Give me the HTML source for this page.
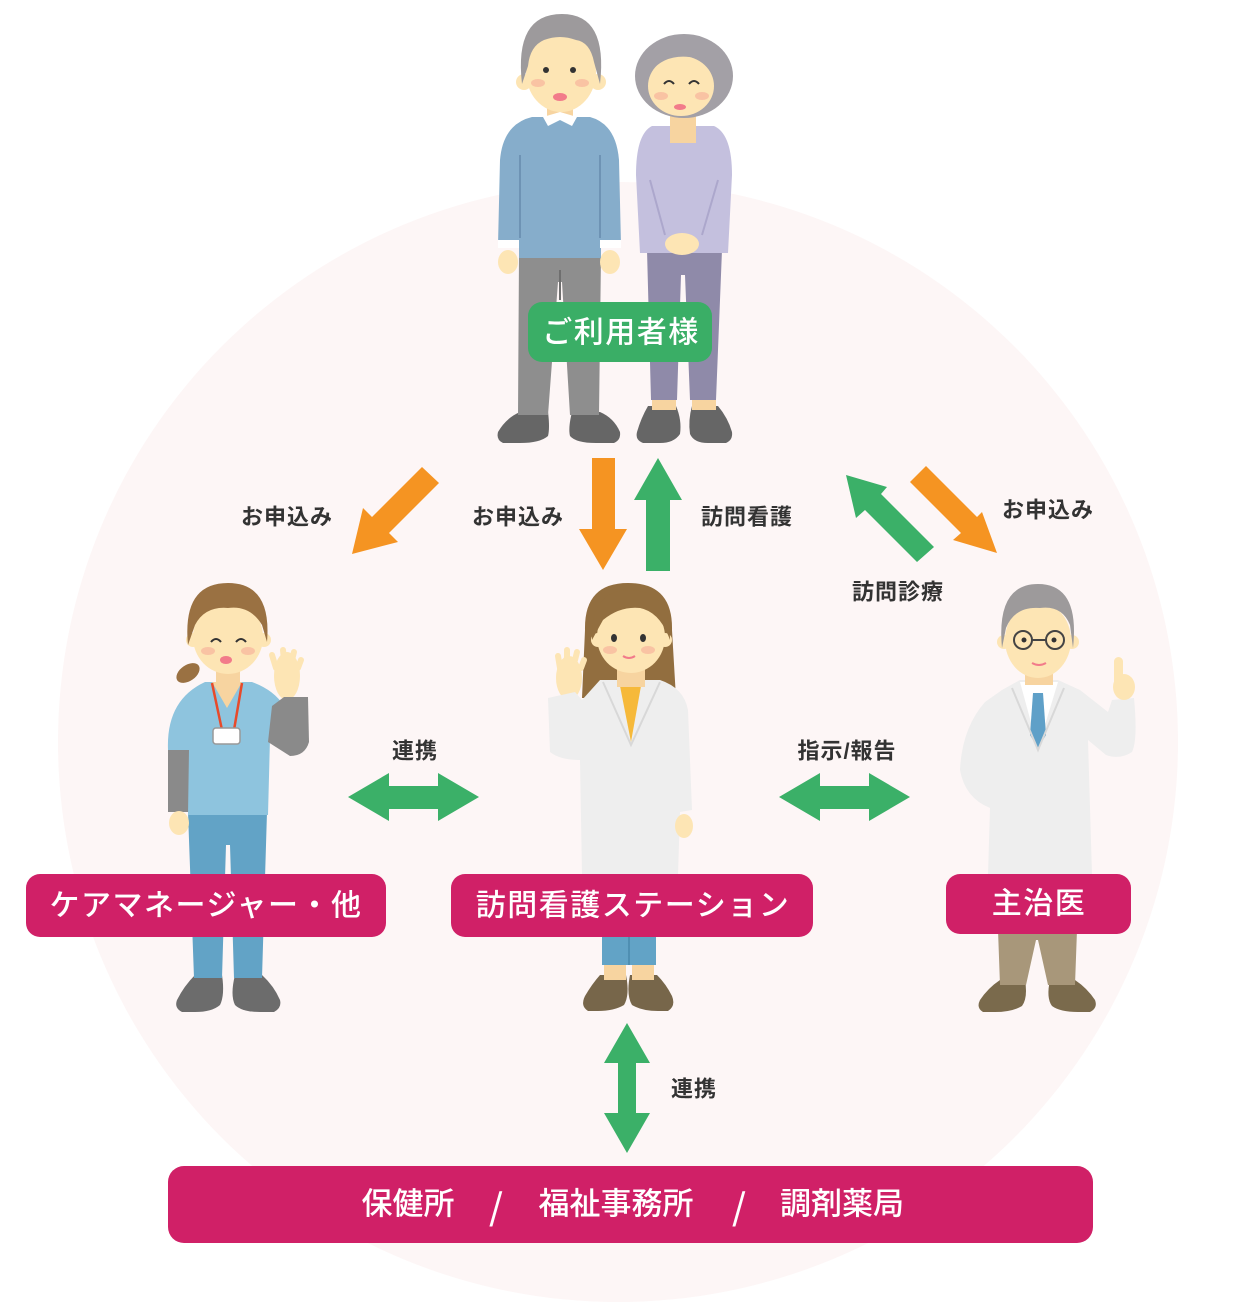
<!DOCTYPE html>
<html><head><meta charset="utf-8">
<style>
html,body{margin:0;padding:0;background:#fff;}
body{width:1233px;height:1312px;overflow:hidden;}
svg{display:block;}
text{font-family:"Liberation Sans","Noto Sans CJK JP",sans-serif;}
.sm{font-size:22px;font-weight:700;fill:#333;letter-spacing:1px;}
.bx{font-size:30px;font-weight:500;fill:#fff;letter-spacing:1.5px;}
.bb{font-size:31px;font-weight:500;fill:#fff;}
.sl{font-size:36px;font-weight:500;fill:#fff;font-family:"Noto Sans CJK JP",sans-serif;}
</style></head><body>
<svg width="1233" height="1312" viewBox="0 0 1233 1312" xmlns="http://www.w3.org/2000/svg">
<!-- background circle -->
<circle cx="618" cy="742" r="560" fill="#fdf6f6"/>

<!-- ================= OLD MAN ================= -->
<g>
  <path d="M520,412 L548,412 Q550,428 548,436 Q540,443 520,443 L503,443 Q496,440 498,432 Q506,418 520,412Z" fill="#666"/>
  <path d="M572,412 L600,412 Q614,418 620,432 Q621,440 614,443 L596,443 Q576,443 570,436 Q568,428 572,412Z" fill="#666"/>
  <path d="M519,255 L601,255 L599,415 L570,415 L562,282 L558,282 L548,415 L518,415Z" fill="#8e8e8e"/>
  <path d="M560,270 L560,300" stroke="#6f6f6f" stroke-width="2"/>
  <ellipse cx="508" cy="262" rx="10" ry="12" fill="#fde5b4"/>
  <ellipse cx="610" cy="262" rx="10" ry="12" fill="#fde5b4"/>
  <path d="M532,117 L590,117 Q616,124 619,160 L621,245 L601,245 L601,258 L519,258 L519,245 L498,245 L500,160 Q503,124 532,117Z" fill="#86adcb"/>
  <path d="M520,155 L520,238 M600,155 L600,238" stroke="#6e93b4" stroke-width="2" fill="none"/>
  <rect x="498" y="240" width="21" height="8" fill="#fff"/>
  <rect x="600" y="240" width="21" height="8" fill="#fff"/>
  <rect x="547" y="98" width="26" height="20" fill="#f7d4a0"/>
  <path d="M543,117 L560,112 L577,117 L572,126 L560,120 L548,126Z" fill="#fff"/>
  <circle cx="524" cy="82" r="8" fill="#fde5b4"/>
  <circle cx="598" cy="82" r="8" fill="#fde5b4"/>
  <ellipse cx="561" cy="72" rx="35" ry="40" fill="#fde5b4"/>
  <path d="M522,84 Q514,14 562,14 Q608,14 600,84 L594,62 Q590,42 576,40 Q560,34 544,40 Q530,46 528,66Z" fill="#9d9a9c"/>
  <circle cx="546" cy="70" r="3" fill="#333"/>
  <circle cx="573" cy="70" r="3" fill="#333"/>
  <ellipse cx="538" cy="83" rx="7" ry="4" fill="#f9c3a3"/>
  <ellipse cx="582" cy="83" rx="7" ry="4" fill="#f9c3a3"/>
  <ellipse cx="560" cy="97" rx="7" ry="4" fill="#f27b8a"/>
</g>

<!-- ================= OLD WOMAN ================= -->
<g>
  <path d="M648,406 L676,406 Q682,420 680,434 Q674,443 660,443 L643,443 Q635,440 637,432 Q641,418 648,406Z" fill="#666"/>
  <path d="M692,406 L718,406 Q728,418 732,432 Q733,440 726,443 L708,443 Q694,443 690,434 Q688,420 692,406Z" fill="#666"/>
  <rect x="652" y="396" width="24" height="14" fill="#f7d4a0"/>
  <rect x="692" y="396" width="24" height="14" fill="#f7d4a0"/>
  <path d="M647,250 L722,250 L716,400 L690,400 L685,275 L681,275 L677,400 L651,400Z" fill="#8f8aa9"/>
  <path d="M652,126 L670,126 L670,143 L696,143 L696,126 L714,126 Q732,134 732,175 L728,253 L640,253 L636,175 Q636,134 652,126Z" fill="#c4c0de"/>
  <path d="M650,180 L665,235 M718,180 L702,235" stroke="#aca7cc" stroke-width="2" fill="none"/>
  <rect x="670" y="108" width="26" height="35" fill="#f7d4a0"/>
  <ellipse cx="682" cy="244" rx="17" ry="11" fill="#fde5b4"/>
  <ellipse cx="684" cy="76" rx="49" ry="42" fill="#a3a0a6"/>
  <ellipse cx="681" cy="86" rx="33" ry="30" fill="#fde5b4"/>
  <path d="M640,84 Q640,40 684,38 Q724,40 722,74 Q712,52 690,57 Q665,54 650,72Z" fill="#a3a0a6"/>
  <path d="M664,84 q5,-6 10,0 M689,84 q5,-6 10,0" stroke="#333" stroke-width="2" fill="none"/>
  <ellipse cx="661" cy="96" rx="7" ry="4" fill="#f9c3a3"/>
  <ellipse cx="702" cy="96" rx="7" ry="4" fill="#f9c3a3"/>
  <ellipse cx="680" cy="107" rx="6" ry="3" fill="#f27b8a"/>
</g>

<rect x="528" y="302" width="184" height="60" rx="14" fill="#3aae66"/>
<text class="bx" x="621" y="333" text-anchor="middle" dominant-baseline="central">ご利用者様</text>

<!-- ================= ARROWS ================= -->
<polygon points="422,467 439,483 389,533 398,542 352,554 363,508 372,517" fill="#f59422"/>
<polygon points="592,458 615,458 615,529 627,529 603,570 579,529 592,529" fill="#f59422"/>
<polygon points="658,458 682,500 670,500 670,571 646,571 646,500 634,500" fill="#3bb068"/>
<polygon points="934,547 917,562 865,510 856,518 846,475 887,487 881,494" fill="#3bb068"/>
<polygon points="910,482 926,466 977,517 982,512 997,553 953,540 961,533" fill="#f59422"/>
<polygon points="348,797 389,773 389,786 438,786 438,773 479,797 438,821 438,809 389,809 389,821" fill="#3bb068"/>
<polygon points="779,797 820,773 820,786 869,786 869,773 910,797 869,821 869,809 820,809 820,821" fill="#3bb068"/>
<polygon points="627,1023 650,1063 636,1063 636,1113 650,1113 627,1153 604,1113 618,1113 618,1063 604,1063" fill="#3bb068"/>

<text class="sm" x="287" y="517" text-anchor="middle" dominant-baseline="central">お申込み</text>
<text class="sm" x="518" y="517" text-anchor="middle" dominant-baseline="central">お申込み</text>
<text class="sm" x="747" y="517" text-anchor="middle" dominant-baseline="central">訪問看護</text>
<text class="sm" x="1048" y="510" text-anchor="middle" dominant-baseline="central">お申込み</text>
<text class="sm" x="898" y="592" text-anchor="middle" dominant-baseline="central">訪問診療</text>
<text class="sm" x="415" y="751" text-anchor="middle" dominant-baseline="central">連携</text>
<text class="sm" x="847" y="751" text-anchor="middle" dominant-baseline="central">指示/報告</text>
<text class="sm" x="694" y="1089" text-anchor="middle" dominant-baseline="central">連携</text>

<!-- ================= CARE MANAGER ================= -->
<g>
  <path d="M195,975 L222,975 Q225,995 220,1005 Q212,1012 195,1012 L182,1012 Q174,1008 177,1000 Q184,986 195,975Z" fill="#6c6c6c"/>
  <path d="M235,975 L262,975 Q274,986 280,1000 Q282,1008 274,1012 L260,1012 Q242,1012 235,1005 Q230,995 235,975Z" fill="#6c6c6c"/>
  <path d="M188,812 L267,812 L262,978 L234,978 L230,845 L226,845 L222,978 L194,978Z" fill="#62a3c6"/>
  <rect x="168" y="748" width="21" height="64" fill="#8a8a8a"/>
  <ellipse cx="179" cy="823" rx="10" ry="12" fill="#fde5b4"/>
  <path d="M205,682 L252,682 Q274,690 284,706 L270,738 L268,815 L188,815 L189,750 L168,750 Q166,700 205,682Z" fill="#8ec4de"/>
  <path d="M212,682 L242,682 L227,708Z" fill="#f7d4a0"/>
  <ellipse cx="287" cy="676" rx="13" ry="24" fill="#fde5b4"/>
  <path d="M276,668 L272,655 M284,660 L283,650 M292,660 L294,652 M298,668 L301,660" stroke="#fde5b4" stroke-width="6" stroke-linecap="round"/>
  <path d="M272,706 L284,697 L308,697 L309,742 Q305,756 290,756 L268,742Z" fill="#8a8a8a"/>
  <path d="M212,683 L222,730 M242,683 L234,730" stroke="#e84a2a" stroke-width="2.5" fill="none"/>
  <rect x="213" y="728" width="27" height="16" rx="3" fill="#fff" stroke="#999" stroke-width="1.5"/>
  <rect x="216" y="660" width="24" height="24" fill="#f7d4a0"/>
  <ellipse cx="188" cy="673" rx="13" ry="8" transform="rotate(-35 188 673)" fill="#9a7142"/>
  <circle cx="193" cy="640" r="7" fill="#fde5b4"/>
  <circle cx="264" cy="640" r="7" fill="#fde5b4"/>
  <ellipse cx="228" cy="637" rx="35" ry="37" fill="#fde5b4"/>
  <path d="M188,645 Q182,583 228,583 Q272,583 267,642 L262,625 Q250,605 228,608 Q205,606 195,625Z" fill="#9a7142"/>
  <path d="M211,642 q5,-6 10,0 M236,642 q5,-6 10,0" stroke="#333" stroke-width="2" fill="none"/>
  <ellipse cx="208" cy="651" rx="7" ry="4" fill="#f9c3a3"/>
  <ellipse cx="248" cy="651" rx="7" ry="4" fill="#f9c3a3"/>
  <ellipse cx="226" cy="660" rx="6" ry="4" fill="#f27b8a"/>
</g>
<rect x="26" y="874" width="360" height="63" rx="14" fill="#d02067"/>
<text class="bx" x="206" y="906" text-anchor="middle" dominant-baseline="central">ケアマネージャー・他</text>

<!-- ================= NURSE ================= -->
<g>
  <path d="M600,975 L626,975 Q630,995 624,1005 Q614,1011 598,1011 L588,1011 Q580,1006 585,996 Q592,984 600,975Z" fill="#77664a"/>
  <path d="M630,975 L657,975 Q666,984 672,996 Q676,1006 668,1011 L658,1011 Q642,1011 632,1005 Q626,995 630,975Z" fill="#77664a"/>
  <rect x="604" y="960" width="22" height="20" fill="#f7d4a0"/>
  <rect x="632" y="960" width="22" height="20" fill="#f7d4a0"/>
  <rect x="602" y="930" width="54" height="35" fill="#62a3c6"/>
  <path d="M629,935 L629,965" stroke="#4f8fb2" stroke-width="2"/>
  <path d="M585,630 Q584,583 628,583 Q673,583 672,630 L676,698 L582,698Z" fill="#926e3f"/>
  <ellipse cx="569" cy="678" rx="13" ry="22" fill="#fde5b4"/>
  <path d="M560,668 L558,656 M567,660 L567,650 M575,660 L577,652 M581,668 L584,660" stroke="#fde5b4" stroke-width="6" stroke-linecap="round"/>
  <path d="M600,680 L660,680 Q684,688 688,710 L692,810 L680,812 L678,875 L582,875 L580,760 Q560,760 550,752 L548,698 L575,692 L582,700Z" fill="#eeeeee"/>
  <path d="M620,686 L641,686 L631,742Z" fill="#f6b93a"/>
  <path d="M603,682 L631,745 L660,682" stroke="#d8d8d8" stroke-width="2" fill="none"/>
  <ellipse cx="684" cy="826" rx="9" ry="12" fill="#fde5b4"/>
  <rect x="617" y="665" width="28" height="22" fill="#f7d4a0"/>
  <circle cx="598" cy="640" r="7" fill="#fde5b4"/>
  <circle cx="665" cy="640" r="7" fill="#fde5b4"/>
  <ellipse cx="631" cy="637" rx="34" ry="36" fill="#fde5b4"/>
  <path d="M592,640 Q590,590 630,590 Q670,590 670,640 Q660,612 640,608 Q620,606 603,620Z" fill="#926e3f"/>
  <ellipse cx="614" cy="638" rx="3" ry="4" fill="#333"/>
  <ellipse cx="643" cy="638" rx="3" ry="4" fill="#333"/>
  <ellipse cx="610" cy="650" rx="7" ry="4" fill="#f9c3a3"/>
  <ellipse cx="648" cy="650" rx="7" ry="4" fill="#f9c3a3"/>
  <path d="M623,656 q6,4 12,0" stroke="#f27b8a" stroke-width="2" fill="none"/>
</g>
<rect x="451" y="874" width="362" height="63" rx="14" fill="#d02067"/>
<text class="bx" x="633" y="906" text-anchor="middle" dominant-baseline="central">訪問看護ステーション</text>

<!-- ================= DOCTOR ================= -->
<g>
  <path d="M1000,980 L1025,980 Q1028,998 1022,1006 Q1012,1012 995,1012 L983,1012 Q976,1008 980,1000 Q988,988 1000,980Z" fill="#7a6a4c"/>
  <path d="M1050,980 L1075,980 Q1087,988 1095,1000 Q1098,1008 1090,1012 L1078,1012 Q1060,1012 1052,1006 Q1046,998 1050,980Z" fill="#7a6a4c"/>
  <path d="M998,930 L1077,930 L1075,985 L1048,985 L1038,940 L1036,940 L1026,985 L1000,985Z" fill="#a8977a"/>
  <path d="M1002,690 L1020,680 L1058,680 L1080,690 L1108,712 L1112,700 L1134,698 Q1138,740 1132,752 Q1120,760 1106,755 L1088,740 L1092,875 L988,875 L990,808 Q965,798 960,770 Q962,728 985,702Z" fill="#eeeeee"/>
  <path d="M1020,682 L1038,748 L1058,682Z" fill="#fff"/>
  <path d="M1033,693 L1043,693 L1046,735 L1038,748 L1030,735Z" fill="#5fa0c8"/>
  <path d="M1012,688 L1038,750 L1064,688" stroke="#d8d8d8" stroke-width="2" fill="none"/>
  <rect x="1114" y="657" width="9" height="30" rx="4.5" fill="#fde5b4"/>
  <ellipse cx="1124" cy="687" rx="11" ry="13" fill="#fde5b4"/>
  <rect x="1025" y="665" width="28" height="20" fill="#f7d4a0"/>
  <circle cx="1004" cy="642" r="7" fill="#fde5b4"/>
  <circle cx="1072" cy="642" r="7" fill="#fde5b4"/>
  <ellipse cx="1038" cy="640" rx="33" ry="38" fill="#fde5b4"/>
  <path d="M1002,648 Q996,584 1038,584 Q1080,584 1073,648 L1070,625 Q1062,605 1040,608 Q1015,606 1006,628Z" fill="#9d9a9b"/>
  <circle cx="1023" cy="640" r="9" fill="none" stroke="#444" stroke-width="2"/>
  <circle cx="1055" cy="640" r="9" fill="none" stroke="#444" stroke-width="2"/>
  <path d="M1032,640 L1046,640" stroke="#444" stroke-width="2"/>
  <circle cx="1024" cy="640" r="2.5" fill="#333"/>
  <circle cx="1054" cy="640" r="2.5" fill="#333"/>
  <path d="M1032,663 q7,4 14,0" stroke="#f27b8a" stroke-width="2" fill="none"/>
</g>
<rect x="946" y="874" width="185" height="60" rx="14" fill="#d02067"/>
<text class="bx" x="1039" y="904" text-anchor="middle" dominant-baseline="central">主治医</text>

<!-- ================= BOTTOM BAR ================= -->
<rect x="168" y="1166" width="925" height="77" rx="16" fill="#d02067"/>
<text class="bb" x="408" y="1204" text-anchor="middle" dominant-baseline="central">保健所</text>
<text class="sl" x="496" y="1205" text-anchor="middle" dominant-baseline="central">/</text>
<text class="bb" x="616" y="1204" text-anchor="middle" dominant-baseline="central">福祉事務所</text>
<text class="sl" x="739" y="1205" text-anchor="middle" dominant-baseline="central">/</text>
<text class="bb" x="842" y="1204" text-anchor="middle" dominant-baseline="central">調剤薬局</text>
</svg>
</body></html>
